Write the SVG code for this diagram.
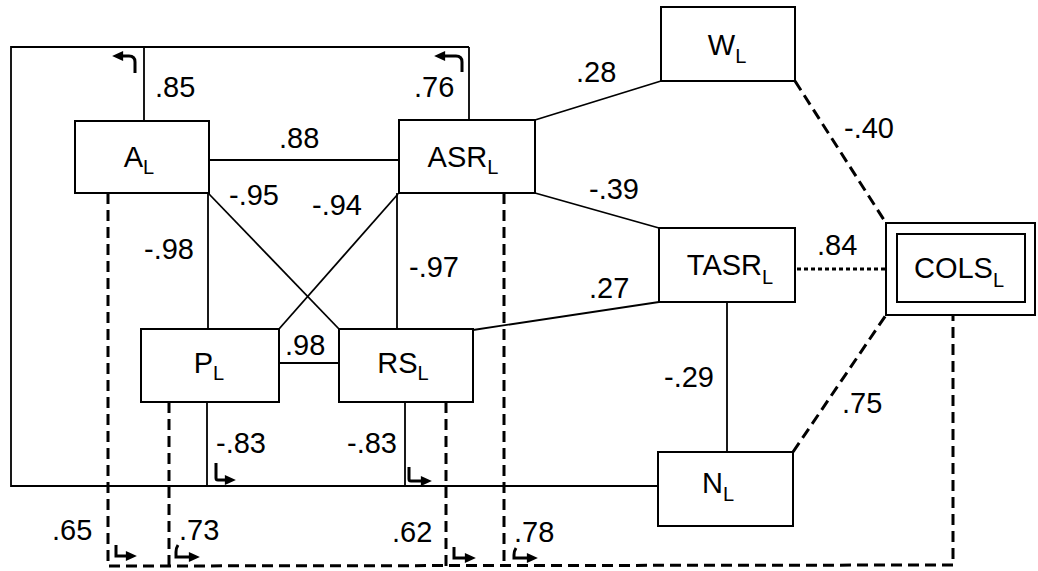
<svg xmlns="http://www.w3.org/2000/svg" width="1038" height="571" viewBox="0 0 1038 571">
<defs>
<style>
.box{fill:#fff;stroke:#000;stroke-width:2}
.ln{fill:none;stroke:#000;stroke-width:1.8}
.dash{fill:none;stroke:#000;stroke-width:3;stroke-dasharray:11 6}
.dot{fill:none;stroke:#000;stroke-width:3.2;stroke-dasharray:4 3}
.hook{fill:none;stroke:#000;stroke-width:3;marker-end:url(#ah)}
.lbl{font-family:"Liberation Sans",Arial,sans-serif;font-size:29px;fill:#000;text-anchor:middle}
.num{font-family:"Liberation Sans",Arial,sans-serif;font-size:29px;fill:#000}
.sub{font-size:20px}
</style>
<marker id="ah" markerUnits="userSpaceOnUse" markerWidth="12" markerHeight="11" viewBox="0 0 10 10" refX="1" refY="5" orient="auto">
<path d="M0,0.5 L10,5 L0,9.5 z" fill="#000"/>
</marker>
</defs>
<rect width="1038" height="571" fill="#fff"/>
<g id="connectors">
<polyline class="ln" points="144,121 144,47 11,47 11,486 658,486"/>
<line class="ln" x1="469" y1="47" x2="469" y2="120"/>
<line class="ln" x1="144" y1="47" x2="469" y2="47"/>
<line class="ln" x1="207" y1="402" x2="207" y2="486"/>
<line class="ln" x1="405" y1="402" x2="405" y2="486"/>
<line class="ln" x1="209" y1="160" x2="399" y2="160"/>
<line class="ln" x1="208" y1="193" x2="208" y2="329"/>
<line class="ln" x1="209" y1="194" x2="339" y2="329"/>
<line class="ln" x1="398" y1="194" x2="279" y2="329"/>
<line class="ln" x1="397" y1="193" x2="397" y2="329"/>
<line class="ln" x1="279" y1="363" x2="339" y2="363"/>
<line class="ln" x1="473" y1="330" x2="659" y2="302"/>
<line class="ln" x1="535" y1="120" x2="661" y2="81"/>
<line class="ln" x1="535" y1="193" x2="659" y2="228"/>
<line class="ln" x1="727" y1="302" x2="727" y2="452"/>
<line class="dash" x1="795" y1="81" x2="886" y2="223"/>
<line class="dot" x1="797" y1="269" x2="886" y2="269"/>
<line class="dash" x1="793" y1="452" x2="886" y2="315"/>
<polyline class="dash" points="108,193 108,566 953,565 953,315"/>
<line class="dash" x1="169" y1="402" x2="169" y2="566"/>
<line class="dash" x1="446" y1="402" x2="446" y2="566"/>
<line class="dash" x1="504" y1="193" x2="504" y2="566"/>
<path class="hook" d="M135,73 V62 Q135,56 129,56 H122"/>
<path class="hook" d="M462,72 V62 Q462,56 456,56 H444"/>
<path class="hook" d="M216,463 V478 Q216,480 218,480 H226"/>
<path class="hook" d="M409,467 V479 Q409,481 411,481 H422"/>
<path class="hook" d="M116,545 V556 H127"/>
<path class="hook" d="M178,545 Q176,548 176,552 V557 H190"/>
<path class="hook" d="M454,547 V558 H466"/>
<path class="hook" d="M516,548 Q514,551 514,555 V558 H528"/>
</g>
<g id="labels">
<text class="num" x="155" y="97">.85</text>
<text class="num" x="414" y="97">.76</text>
<text class="num" x="279" y="148">.88</text>
<text class="num" x="229" y="205">-.95</text>
<text class="num" x="312" y="215">-.94</text>
<text class="num" x="144" y="259">-.98</text>
<text class="num" x="409" y="277">-.97</text>
<text class="num" x="285" y="355">.98</text>
<text class="num" x="576" y="82">.28</text>
<text class="num" x="844" y="138">-.40</text>
<text class="num" x="589" y="199">-.39</text>
<text class="num" x="817" y="255">.84</text>
<text class="num" x="589" y="298">.27</text>
<text class="num" x="664" y="387">-.29</text>
<text class="num" x="842" y="413">.75</text>
<text class="num" x="216" y="453">-.83</text>
<text class="num" x="347" y="453">-.83</text>
<text class="num" x="52" y="540">.65</text>
<text class="num" x="179" y="540">.73</text>
<text class="num" x="392" y="542">.62</text>
<text class="num" x="514" y="542">.78</text>
</g>
<g id="A"><rect class="box" x="75" y="121" width="134" height="72"/><text class="lbl" x="139" y="167">A<tspan class="sub" dy="7">L</tspan></text></g>
<g id="ASR"><rect class="box" x="399" y="120" width="136" height="73"/><text class="lbl" x="463" y="167">ASR<tspan class="sub" dy="7">L</tspan></text></g>
<g id="W"><rect class="box" x="661" y="7" width="134" height="74"/><text class="lbl" x="727" y="55">W<tspan class="sub" dy="8">L</tspan></text></g>
<g id="TASR"><rect class="box" x="659" y="228" width="136" height="74"/><text class="lbl" x="730" y="275">TASR<tspan class="sub" dy="9">L</tspan></text></g>
<g id="COLS"><rect class="box" x="886" y="223" width="149" height="92"/><rect class="box" x="897" y="234" width="128" height="68"/><text class="lbl" x="959" y="278">COLS<tspan class="sub" dy="9">L</tspan></text></g>
<g id="P"><rect class="box" x="141" y="329" width="138" height="73"/><text class="lbl" x="209" y="373">P<tspan class="sub" dy="7">L</tspan></text></g>
<g id="RS"><rect class="box" x="339" y="329" width="134" height="73"/><text class="lbl" x="403" y="373">RS<tspan class="sub" dy="7">L</tspan></text></g>
<g id="N"><rect class="box" x="658" y="452" width="135" height="74"/><text class="lbl" x="718" y="493">N<tspan class="sub" dy="8">L</tspan></text></g>
</svg>
